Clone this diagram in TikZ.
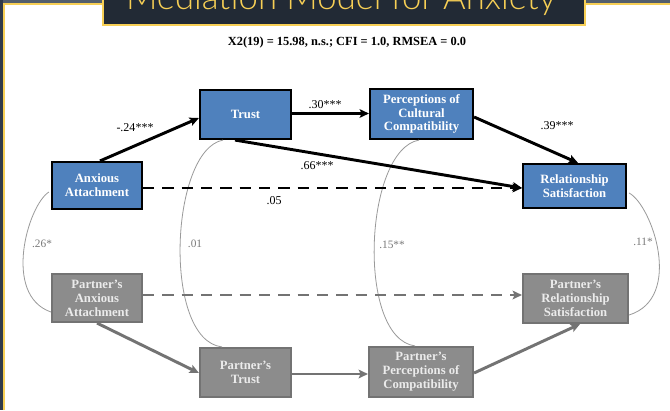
\documentclass[tikz,border=0pt]{standalone}
\usepackage{fontspec}
\setmainfont{Liberation Serif}
\IfFontExistsTF{Lato Light}{\newfontfamily\titlefont{Lato Light}}{\newfontfamily\titlefont{Lato}}
\usetikzlibrary{arrows.meta,calc}
\definecolor{boxblue}{HTML}{4F81BD}
\definecolor{boxgray}{HTML}{8C8C8C}
\definecolor{graybd}{HTML}{737373}
\definecolor{navy}{HTML}{222A35}
\definecolor{gold}{HTML}{F7CF55}
\definecolor{slate}{HTML}{535E6C}
\definecolor{slatedk}{HTML}{303A4A}
\definecolor{arcgray}{HTML}{9A9A9A}
\definecolor{labgray}{HTML}{7A7A7A}
\tikzset{
  bluebox/.style={draw=black, line width=1.6pt, fill=boxblue, text=white,
    font=\bfseries\fontsize{9.5}{10.4}\selectfont, align=center, inner sep=0pt},
  graybox/.style={draw=graybd, line width=1.6pt, fill=boxgray, text=white!92!black,
    font=\bfseries\fontsize{9.5}{10.4}\selectfont, align=center, inner sep=0pt},
  blkarrow/.style={draw=black, line width=2.2pt, -{Stealth[length=7pt,width=6.5pt,inset=1.5pt]}},
  grayarrow/.style={draw=graybd, line width=2.2pt, -{Stealth[length=7pt,width=6.5pt,inset=1.5pt]}},
  dashline/.style={dash pattern=on 8.5pt off 6pt},
  arcline/.style={draw=arcgray, line width=0.6pt},
  coef/.style={font=\fontsize{9}{10}\selectfont, inner sep=0pt},
  gcoef/.style={font=\fontsize{8.5}{10}\selectfont, inner sep=0pt, text=labgray}
}
\begin{document}
\begin{tikzpicture}[x=0.75pt,y=-0.75pt]
\useasboundingbox (0,0) rectangle (670,410);
\fill[white] (0,0) rectangle (670,410);
% frame
\fill[slate] (0,0) rectangle (670,3.3);
\fill[slatedk] (0,0) rectangle (3.3,410);
\draw[gold, line width=1.5pt] (4.3,410) -- (4.3,4.3) -- (670,4.3);
% title
\begin{scope}
\clip (0,0) rectangle (670,410);
\draw[fill=navy, draw=gold, line width=1.5pt] (103,-5) rectangle (585,25);
\node[anchor=base, text=gold, inner sep=0pt, font=\titlefont\fontsize{26}{26}\selectfont] (title) at (341,9.5) {Mediation Model for Anxiety};
\end{scope}
\node[font=\bfseries\fontsize{9.3}{10}\selectfont, inner sep=0pt] (fit) at (347,43) {X2(19) = 15.98, n.s.; CFI = 1.0, RMSEA = 0.0};

% nodes
\node[bluebox, minimum width=67.5pt, minimum height=35.25pt] (a) at (97,185.5) {Anxious\\Attachment};
\node[bluebox, minimum width=68.25pt, minimum height=36.75pt] (t) at (245.5,114.5) {Trust};
\node[bluebox, minimum width=77.25pt, minimum height=37.5pt] (p) at (421.5,114) {Perceptions of\\Cultural\\Compatibility};
\node[bluebox, minimum width=77.25pt, minimum height=33pt] (r) at (574.5,186) {Relationship\\Satisfaction};
\node[graybox, minimum width=67.5pt, minimum height=36pt] (pa) at (97,298) {Partner's\\Anxious\\Attachment};
\node[graybox, minimum width=68.25pt, minimum height=36.75pt] (pt) at (245.5,372.5) {Partner's\\Trust};
\node[graybox, minimum width=78pt, minimum height=37.5pt] (pp) at (421,372) {Partner's\\Perceptions of\\Compatibility};
\node[graybox, minimum width=78.75pt, minimum height=36.75pt] (pr) at (575.5,298.5) {Partner's\\Relationship\\Satisfaction};

% correlation arcs
\draw[arcline] ($(a.west)+(-2,6.5)$) .. controls (28,205) and (2,295) .. ($(pa.west)+(0,14)$);
\draw[arcline] ($(t.south)+(-22.5,0)$) .. controls (170,150) and (162,340) .. ($(pt.north)+(-23.5,0)$);
\draw[arcline] ($(p.south)+(-2.5,0)$) .. controls (364,150) and (356,338) .. ($(pp.north)+(-6,0)$);
\draw[arcline] ($(r.east)+(2,7)$) .. controls (652,205) and (684,298) .. ($(pr.east)+(0,16.5)$);

% structural paths
\draw[blkarrow] ($(a.north)+(3,0)$) -- ($(t.west)+(0,3.5)$);
\draw[blkarrow] ($(t.east)+(0,-1)$) -- ($(p.west)+(0,-0.5)$);
\draw[blkarrow] ($(p.east)+(0,3)$) -- ($(r.north)+(3.5,0)$);
\draw[blkarrow] ($(t.south)+(-10.5,0)$) -- ($(r.west)+(0,2)$);
\draw[blkarrow, dashline] ($(a.east)+(0,2.5)$) -- ($(r.west)+(0,2)$);
\draw[grayarrow, dashline] ($(pa.east)+(0,-3)$) -- ($(pr.west)+(0,-3.5)$);
\draw[grayarrow] (pa.south) -- ($(pt.west)+(0,0.5)$);
\draw[grayarrow] ($(pt.east)+(0,1.5)$) -- ($(pp.west)+(0,2)$);
\draw[grayarrow] ($(pp.east)+(0,1)$) -- ($(pr.south)+(4.5,0)$);

% coefficients
\node[coef] (c1) at (135,128) {-.24***};
\node[coef] (c2) at (325,105) {.30***};
\node[coef] (c3) at (557,126) {.39***};
\node[coef] (c4) at (317,166) {.66***};
\node[coef] (c5) at (274,201) {.05};
\node[gcoef] (g1) at (42,244) {.26*};
\node[gcoef] (g2) at (195,244) {.01};
\node[gcoef] (g3) at (392,245) {.15**};
\node[gcoef] (g4) at (643,242) {.11*};
\end{tikzpicture}
\end{document}
